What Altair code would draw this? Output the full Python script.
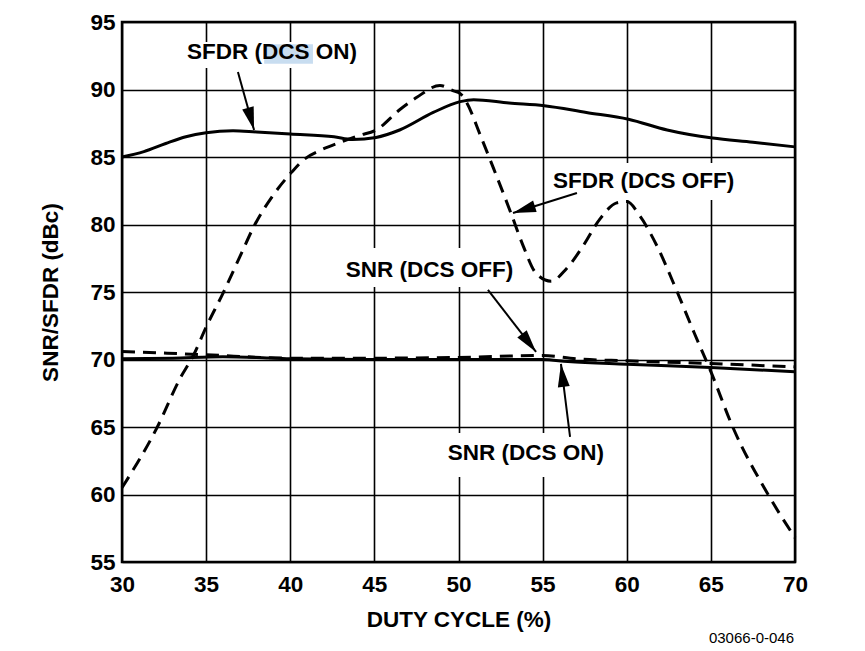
import altair as alt
import pandas as pd
import math

# ---- data ----
sfdr_on_x = [30, 31.3, 32.6, 33.8, 35, 36.6, 38, 40, 42.6, 43.7, 45.1, 46.5, 48.5, 50.1, 50.9, 53, 55.1, 57.6, 60.1, 62.4, 65.1, 67.5, 70]
sfdr_on_y = [85.0, 85.4, 86.0, 86.5, 86.8, 86.95, 86.85, 86.7, 86.5, 86.3, 86.45, 87.0, 88.3, 89.1, 89.25, 89.0, 88.8, 88.3, 87.8, 87.0, 86.4, 86.1, 85.75]

sfdr_off_x = [30, 32.1, 33.45, 34.24, 35, 36, 37, 37.9, 39, 40.1, 40.8, 41.8, 43, 44.1, 45.1, 46.5, 47.5, 48.9, 49.7, 50.1, 50.5, 51.3, 52.1, 53.1, 53.85, 54.6, 55.5, 56.4, 57.4, 58.4, 59.4, 60, 60.8, 61.8, 63, 64, 65, 66.3, 68.4, 70]
sfdr_off_y = [60.5, 65.0, 68.6, 70.3, 72.4, 74.9, 77.6, 80.0, 82.2, 83.9, 84.8, 85.5, 86.1, 86.6, 87.0, 88.5, 89.4, 90.3, 89.9, 89.7, 89.0, 86.6, 84.1, 80.9, 78.4, 76.4, 75.8, 76.7, 78.4, 80.4, 81.6, 81.7, 80.6, 78.4, 75.0, 72.0, 69.1, 65.0, 60.0, 56.8]

snr_off_x = [30, 35, 40, 45, 50, 55, 57, 60, 65, 70]
snr_off_y = [70.6, 70.35, 70.1, 70.1, 70.15, 70.3, 70.05, 69.9, 69.7, 69.45]

snr_on_x = [30, 33, 36, 38, 40, 45, 50, 55, 56.5, 60, 65, 70]
snr_on_y = [70.05, 70.1, 70.2, 70.15, 70.05, 70.0, 70.0, 70.0, 69.85, 69.65, 69.4, 69.1]

x_ticks = [30, 35, 40, 45, 50, 55, 60, 65, 70]
y_ticks = [55, 60, 65, 70, 75, 80, 85, 90, 95]

# annotation labels (data coordinates)
label_text = ["SFDR (DCS ON)", "SFDR (DCS OFF)", "SNR (DCS OFF)", "SNR (DCS ON)"]
label_x = [38.92, 61.0, 48.28, 54.01]
label_y = [92.78, 83.22, 76.63, 63.05]
# white boxes behind labels
box_x1 = [33.92, 55.32, 42.96, 49.02]
box_x2 = [44.03, 66.73, 53.54, 59.0]
box_y1 = [93.52, 84.56, 78.26, 64.56]
box_y2 = [91.59, 81.81, 75.37, 61.30]
# arrows: start -> tip
arr_x1 = [36.89, 57.04, 51.75, 56.63]
arr_y1 = [91.30, 82.33, 75.15, 64.26]
arr_x2 = [37.85, 53.24, 54.61, 56.09]
arr_y2 = [87.0, 80.85, 70.56, 69.67]

W, H = 673, 540
XD, YD = [30, 70], [55, 95]

def px(xv, yv):
    return ((xv - XD[0]) / (XD[1] - XD[0]) * W, (YD[1] - yv) / (YD[1] - YD[0]) * H)

angles = []
for a, b, c, d in zip(arr_x1, arr_y1, arr_x2, arr_y2):
    p1, p2 = px(a, b), px(c, d)
    dx, dy = p2[0] - p1[0], p2[1] - p1[1]
    ang = math.degrees(math.atan2(dx, -dy)) % 360
    angles.append(ang)

font = "Liberation Sans"
FS = 22.5
xs = alt.Scale(domain=XD, nice=False, zero=False)
ys = alt.Scale(domain=YD, nice=False, zero=False)

def series(xv, yv):
    return pd.DataFrame({"x": xv, "y": yv})

xenc = alt.X("x:Q", scale=xs, title="DUTY CYCLE (%)",
             axis=alt.Axis(values=x_ticks, ticks=False, labelPadding=11, titlePadding=13,
                           grid=True, gridColor="black", gridWidth=1.6, gridOpacity=1,
                           domain=False, labelFontSize=FS, labelFontWeight="bold",
                           labelFont=font, labelColor="black",
                           titleFontSize=FS, titleFont=font, titleFontWeight="bold", titleColor="black",
                           format="d", labelFlush=False))
yenc = alt.Y("y:Q", scale=ys, title="SNR/SFDR (dBc)",
             axis=alt.Axis(values=y_ticks, ticks=False, labelPadding=7, titlePadding=27,
                           grid=True, gridColor="black", gridWidth=1.6, gridOpacity=1,
                           domain=False, labelFontSize=FS, labelFontWeight="bold",
                           labelFont=font, labelColor="black",
                           titleFontSize=FS, titleFont=font, titleFontWeight="bold", titleColor="black",
                           format="d", labelFlush=False))

boxes = alt.Chart(pd.DataFrame({"x": box_x1, "x2": box_x2, "y": box_y1, "y2": box_y2})).mark_rect(
    color="white").encode(x=xenc, x2="x2:Q", y=yenc, y2="y2:Q")

hl = alt.Chart(pd.DataFrame({"x": [38.45], "x2": [41.35], "y": [93.35], "y2": [91.9]})).mark_rect(
    color="#c8ddf0").encode(x="x:Q", x2="x2:Q", y="y:Q", y2="y2:Q")

lw = 3.0
dash = [13, 8]
l_sfdr_on = alt.Chart(series(sfdr_on_x, sfdr_on_y)).mark_line(
    color="black", strokeWidth=lw, interpolate="monotone").encode(x="x:Q", y="y:Q", order="x:Q")
l_sfdr_off = alt.Chart(series(sfdr_off_x, sfdr_off_y)).mark_line(
    color="black", strokeWidth=lw, strokeDash=dash, interpolate="monotone").encode(x="x:Q", y="y:Q", order="x:Q")
l_snr_off = alt.Chart(series(snr_off_x, snr_off_y)).mark_line(
    color="black", strokeWidth=lw, strokeDash=dash, interpolate="monotone").encode(x="x:Q", y="y:Q", order="x:Q")
l_snr_on = alt.Chart(series(snr_on_x, snr_on_y)).mark_line(
    color="black", strokeWidth=lw, interpolate="monotone").encode(x="x:Q", y="y:Q", order="x:Q")

labels = alt.Chart(pd.DataFrame({"x": label_x, "y": label_y, "t": label_text})).mark_text(
    font=font, fontSize=FS, fontWeight="bold", color="black", align="center", baseline="middle"
).encode(x="x:Q", y="y:Q", text="t:N")

arrow_df = pd.DataFrame({"x": arr_x1, "y": arr_y1, "x2": arr_x2, "y2": arr_y2, "ang": angles})
shafts = alt.Chart(arrow_df).mark_rule(color="black", strokeWidth=2).encode(
    x="x:Q", y="y:Q", x2="x2:Q", y2="y2:Q")
heads = alt.Chart(arrow_df).mark_point(
    shape="M0,0L-0.26,1L0.26,1Z", filled=True, color="black", opacity=1, size=2100, strokeWidth=0
).encode(x="x2:Q", y="y2:Q", angle=alt.Angle("ang:Q", scale=None))

footer = alt.Chart(pd.DataFrame({"t": ["03066-0-046"]})).mark_text(
    font=font, fontSize=15, color="black", align="right", baseline="middle"
).encode(x=alt.value(672), y=alt.value(616), text="t:N")

chart = alt.layer(boxes, hl, l_sfdr_on, l_sfdr_off, l_snr_off, l_snr_on, shafts, heads, labels, footer).properties(
    width=W, height=H,
    autosize=alt.AutoSizeParams(type="none"),
    padding={"left": 122, "top": 22, "right": 70, "bottom": 89},
    background="white",
).configure_view(stroke="black", strokeWidth=2.5)

chart.save("out.html", embed_options={"renderer": "svg", "actions": False})
